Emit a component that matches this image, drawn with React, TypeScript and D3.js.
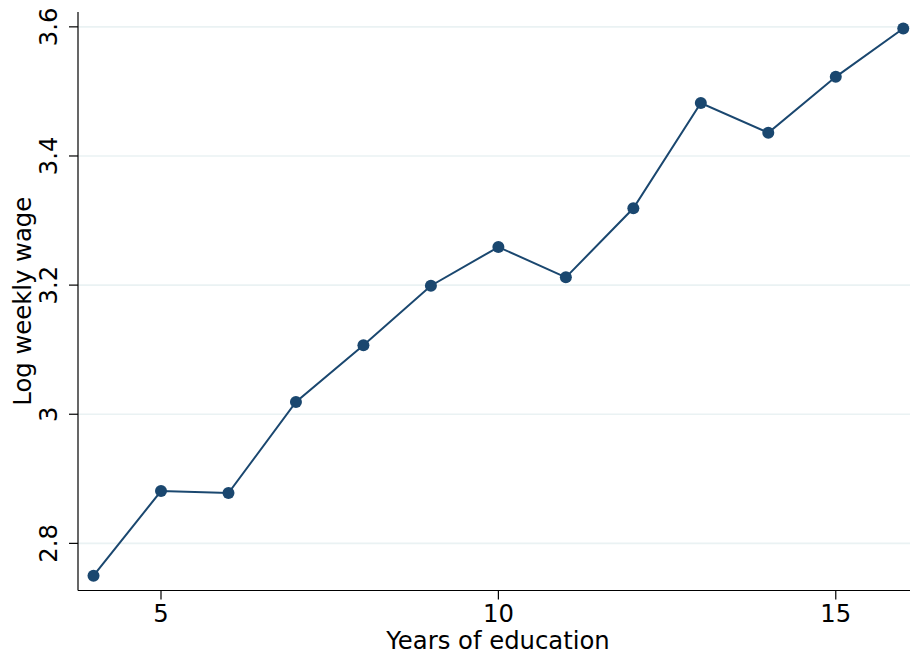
import React from "react";
import * as d3 from "d3";

const years = [4, 5, 6, 7, 8, 9, 10, 11, 12, 13, 14, 15, 16];
const logWage = [2.75, 2.881, 2.878, 3.019, 3.107, 3.199, 3.259, 3.212, 3.319, 3.482, 3.436, 3.5226, 3.5975];
const xTicks = [5, 10, 15];
const yTicks = [2.8, 3.0, 3.2, 3.4, 3.6];
const yTickLabels = ["2.8", "3", "3.2", "3.4", "3.6"];
const xTitle = "Years of education";
const yTitle = "Log weekly wage";

export default function App() {
  const W = 912, H = 658;
  const left = 78, right = 910, top = 12, bottom = 590.5;
  const x = d3.scaleLinear().domain([3.77, 16.1]).range([left, right]);
  const y = d3.scaleLinear().domain([2.727, 3.623]).range([bottom, top]);
  const color = "#1a476f";
  const font = "DejaVu Sans, sans-serif";
  const fs = 24.3;
  const line = d3.line<number>().x((_, i) => x(years[i])).y((d) => y(d));

  return (
    <svg width={W} height={H} style={{ position: "absolute", left: 0, top: 0, background: "#fff" }}>
      <rect width={W} height={H} fill="#fff" />
      {yTicks.map((t) => (
        <line key={"g" + t} x1={left} x2={right} y1={y(t)} y2={y(t)} stroke="#eaf2f3" strokeWidth={1.6} />
      ))}
      <path d={line(logWage) || ""} fill="none" stroke={color} strokeWidth={2} />
      {logWage.map((v, i) => (
        <circle key={i} cx={x(years[i])} cy={y(v)} r={6} fill={color} />
      ))}
      <line x1={left} x2={left} y1={top} y2={bottom} stroke="#000" strokeWidth={1.2} />
      <line x1={left} x2={right} y1={bottom} y2={bottom} stroke="#000" strokeWidth={1.2} />
      {yTicks.map((t, i) => (
        <g key={"y" + t}>
          <line x1={left - 9} x2={left} y1={y(t)} y2={y(t)} stroke="#000" strokeWidth={1.2} />
          <text
            transform={`translate(${left - 21},${y(t)}) rotate(-90)`}
            textAnchor="middle"
            fontFamily={font}
            fontSize={fs}
            fill="#000"
          >
            {yTickLabels[i]}
          </text>
        </g>
      ))}
      {xTicks.map((t) => (
        <g key={"x" + t}>
          <line x1={x(t)} x2={x(t)} y1={bottom} y2={bottom + 9} stroke="#000" strokeWidth={1.2} />
          <text x={x(t)} y={621.5} textAnchor="middle" fontFamily={font} fontSize={fs} fill="#000">
            {t}
          </text>
        </g>
      ))}
      <text x={(left + right) / 2 + 4} y={649} textAnchor="middle" fontFamily={font} fontSize={fs} fill="#000">
        {xTitle}
      </text>
      <text
        transform={`translate(31,${(top + bottom) / 2}) rotate(-90)`}
        textAnchor="middle"
        fontFamily={font}
        fontSize={fs}
        fill="#000"
      >
        {yTitle}
      </text>
    </svg>
  );
}
